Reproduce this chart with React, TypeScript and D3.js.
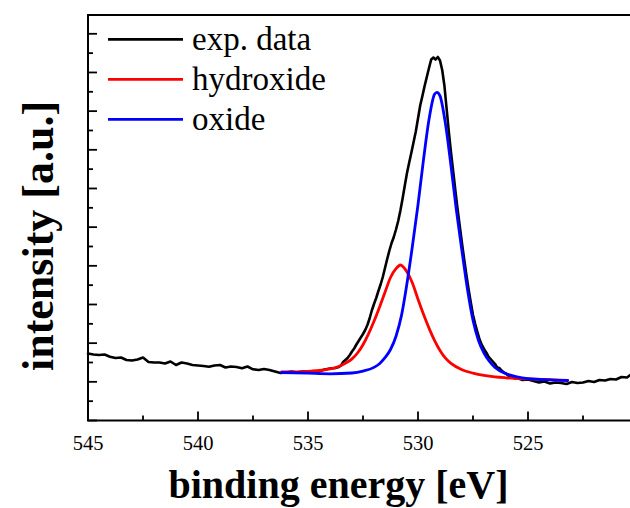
import React from 'react';
import * as d3 from 'd3';

// binding energy [eV] and intensity [a.u.] of the measured spectrum
const expEnergy = [
  545.0, 544.75, 544.5, 544.25, 544.0, 543.75, 543.5, 543.25, 543.0, 542.75,
  542.5, 542.25, 542.0, 541.75, 541.5, 541.25, 541.0, 540.75, 540.5, 540.25,
  540.0, 539.75, 539.5, 539.25, 539.0, 538.75, 538.5, 538.25, 538.0, 537.75,
  537.5, 537.25, 537.0, 536.75, 536.5, 536.25, 536.0, 535.75, 535.5, 535.25,
  535.0, 534.75, 534.5, 534.25, 534.0, 533.75, 533.6, 533.5, 533.4, 533.3,
  533.2, 533.1, 533.0, 532.9, 532.8, 532.7, 532.6, 532.5, 532.4, 532.3,
  532.2, 532.1, 532.0, 531.9, 531.8, 531.7, 531.6, 531.5, 531.4, 531.3,
  531.2, 531.1, 531.0, 530.9, 530.8, 530.7, 530.6, 530.5, 530.4, 530.3,
  530.2, 530.1, 530.0, 529.9, 529.8, 529.7, 529.6, 529.5, 529.4, 529.3,
  529.2, 529.1, 529.0, 528.9, 528.8, 528.7, 528.6, 528.5, 528.4, 528.3,
  528.2, 528.1, 528.0, 527.9, 527.8, 527.7, 527.6, 527.5, 527.4, 527.3,
  527.2, 527.1, 527.0, 526.9, 526.8, 526.7, 526.6, 526.5, 526.4, 526.3,
  526.2, 526.1, 526.0, 525.9, 525.8, 525.7, 525.6, 525.5, 525.25, 525.0,
  524.75, 524.5, 524.25, 524.0, 523.75, 523.5, 523.25, 523.0, 522.75, 522.5,
  522.25, 522.0, 521.75, 521.5, 521.25, 521.0, 520.75, 520.5, 520.35,
];
const expIntensity = [
  67, 66, 65.5, 66, 63.8, 62.5, 63, 60.5, 60, 61,
  63, 58.5, 58, 58, 57, 59, 55.5, 58, 57, 55.5,
  55, 54.5, 53.8, 55, 55.5, 53, 54, 53.5, 52.2, 54,
  51.2, 50.5, 51.5, 50.5, 49, 47.5, 48, 49, 48, 49,
  48.5, 49.5, 49, 51, 52, 52.5, 53.5, 55, 58.5, 60.5,
  62.5, 65.5, 69, 72, 76, 79.5, 83, 86.5, 90.5, 95.5,
  102, 110, 116.5, 122.5, 129.5, 136, 143.5, 152.5, 161.5, 170,
  177.5, 183.5, 191, 199.5, 210, 222, 235, 247.5, 258, 268,
  278.5, 289, 302, 315, 324.5, 334.5, 343.5, 352.5, 361, 363,
  361, 363.5, 360, 350.5, 335, 312, 289, 268, 249, 229.5,
  211, 194, 177, 161, 145.5, 131, 118, 105.5, 96.5, 88.5,
  81, 75.5, 71.5, 68, 64, 61.5, 59, 56.5, 53, 52.5,
  50, 48, 47, 45, 44, 43.5, 42, 42.5, 40.5, 41,
  39.5, 38, 39, 37, 38, 37.5, 36.5, 38.5, 37.5, 38,
  39.5, 38.5, 40.5, 40, 41.5, 41, 43.5, 43, 45.5,
];

// hydroxide component (fit)
const hydroxideEnergy = [
  536.2, 535.5, 535.0, 534.5, 534.0, 533.75, 533.5, 533.25, 533.0, 532.75,
  532.5, 532.25, 532.0, 531.75, 531.5, 531.25, 531.0, 530.8, 530.5, 530.25,
  530.0, 529.75, 529.5, 529.25, 529.0, 528.75, 528.5, 528.0, 527.5, 527.0,
  526.5, 526.0, 525.0, 524.0, 523.2,
];
const hydroxideIntensity = [
  48.6, 48.6, 49.1, 50.0, 51.7, 52.9, 55.1, 57.9, 61.6, 67.5,
  75.8, 86.6, 99.2, 113.3, 128.3, 143, 151.8, 155.5, 148.5, 137.3,
  121.2, 106.2, 92.4, 80.1, 70.0, 62.3, 57.1, 50.8, 47.4, 45.1,
  43.6, 42.7, 41.6, 40.8, 40.2,
];

// oxide component (fit)
const oxideEnergy = [
  536.2, 535.0, 534.0, 533.0, 532.5, 532.0, 531.75, 531.5, 531.25, 531.0,
  530.75, 530.5, 530.25, 530.0, 529.75, 529.5, 529.25, 529.14, 529.0, 528.75,
  528.5, 528.25, 528.0, 527.75, 527.5, 527.25, 527.0, 526.75, 526.5, 526.0,
  525.5, 525.0, 524.0, 523.2,
];
const oxideIntensity = [
  48.0, 47.3, 46.7, 47.5, 49.4, 53.1, 56.8, 62.8, 71.0, 84.3,
  105.1, 137.3, 175.0, 215.8, 260.8, 300.9, 326.2, 328.2, 324.6, 296.4,
  254.5, 209.5, 169.3, 131.0, 100.2, 80.0, 67.4, 59.0, 53.0, 46.8,
  43.7, 41.9, 40.6, 40.0,
];

const xMajorTicks = [545, 540, 535, 530, 525, 520];
const xMinorTicks = [542.5, 537.5, 532.5, 527.5, 522.5];
// the 520 label lies outside the visible picture in the reference
const xTickLabels = ['545', '540', '535', '530', '525'];
const yTickStep = 38.67;

const legendLabels = ['exp. data', 'hydroxide', 'oxide'];
const seriesColors = ['#000000', '#ff0000', '#0000ff'];

const W = 630;
const H = 508;
const left = 88;
const right = 638;
const top = 15;
const bottom = 420.5;
const serif = '"Liberation Serif", "Times New Roman", "DejaVu Serif", serif';

export default function App() {
  const x = d3.scaleLinear().domain([545, 520]).range([left, right]);
  const y = d3.scaleLinear().domain([0, bottom - top]).range([bottom, top]);

  const makePath = (E: number[], I: number[], curve: d3.CurveFactory) =>
    d3
      .line<number>()
      .x((_, i) => x(E[i]))
      .y((d) => y(d))
      .curve(curve)(I) || '';

  const yMajor = d3.range(0, bottom - top - 5, yTickStep);
  const yMinor = d3.range(yTickStep / 2, bottom - top - 5, yTickStep);

  const series = [
    { d: makePath(expEnergy, expIntensity, d3.curveLinear), color: seriesColors[0] },
    { d: makePath(hydroxideEnergy, hydroxideIntensity, d3.curveMonotoneX), color: seriesColors[1] },
    { d: makePath(oxideEnergy, oxideIntensity, d3.curveMonotoneX), color: seriesColors[2] },
  ];

  return (
    <svg
      width={W}
      height={H}
      style={{ position: 'absolute', left: 0, top: 0, background: '#fff' }}
      fontFamily={serif}
    >
      {/* data */}
      {series.map((s, i) => (
        <path
          key={i}
          d={s.d}
          fill="none"
          stroke={s.color}
          strokeWidth={i === 0 ? 2.6 : 2.8}
          strokeLinejoin="round"
          strokeLinecap="round"
        />
      ))}

      {/* frame */}
      <rect
        x={left}
        y={top}
        width={right - left}
        height={bottom - top}
        fill="none"
        stroke="#000"
        strokeWidth={2}
      />

      {/* x ticks (inward) */}
      {xMajorTicks.map((t) => (
        <line key={'xM' + t} x1={x(t)} x2={x(t)} y1={bottom} y2={bottom - 9} stroke="#000" strokeWidth={1.8} />
      ))}
      {xMinorTicks.map((t) => (
        <line key={'xm' + t} x1={x(t)} x2={x(t)} y1={bottom} y2={bottom - 5} stroke="#000" strokeWidth={1.8} />
      ))}
      {xTickLabels.map((lab, i) => (
        <text key={'xl' + lab} x={x(xMajorTicks[i])} y={450} textAnchor="middle" fontSize={20.5} fill="#000">
          {lab}
        </text>
      ))}

      {/* y ticks (inward) */}
      {yMajor.map((t) => (
        <line key={'yM' + t} x1={left} x2={left + 9} y1={y(t)} y2={y(t)} stroke="#000" strokeWidth={1.8} />
      ))}
      {yMinor.map((t) => (
        <line key={'ym' + t} x1={left} x2={left + 5} y1={y(t)} y2={y(t)} stroke="#000" strokeWidth={1.8} />
      ))}

      {/* axis titles */}
      <text x={338.5} y={498} textAnchor="middle" fontSize={40} fontWeight="bold" fill="#000">
        binding energy [eV]
      </text>
      <text
        transform="translate(53,236) rotate(-90)"
        textAnchor="middle"
        fontSize={44}
        fontWeight="bold"
        fill="#000"
      >
        intensity [a.u.]
      </text>

      {/* legend */}
      {legendLabels.map((lab, i) => (
        <g key={lab}>
          <line x1={108} x2={183} y1={39.3 + i * 40} y2={39.3 + i * 40} stroke={seriesColors[i]} strokeWidth={2.8} />
          <text x={192} y={50 + i * 40} fontSize={33} fill="#000">
            {lab}
          </text>
        </g>
      ))}
    </svg>
  );
}
